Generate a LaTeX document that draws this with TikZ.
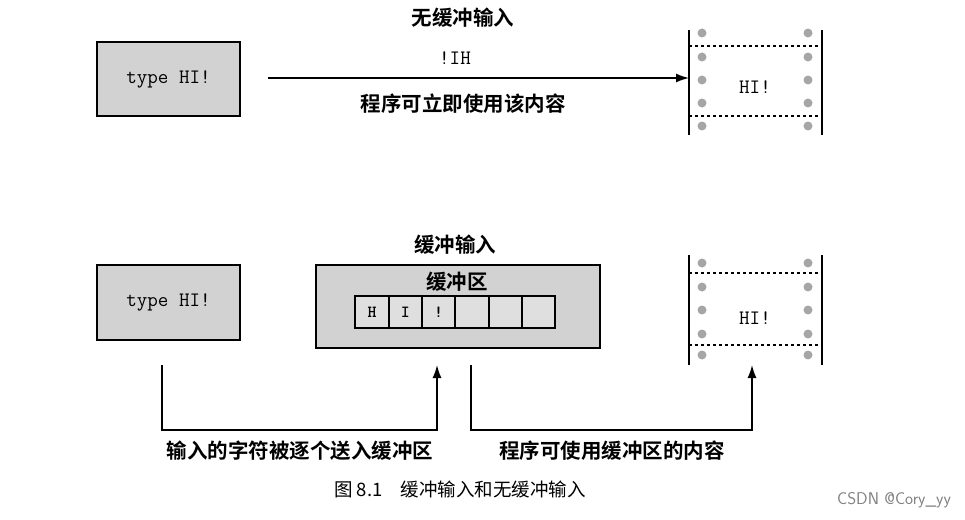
\documentclass[tikz,border=0pt]{standalone}
\usepackage{fontspec}
\newfontfamily\cjk{Noto Sans CJK SC}
\newfontfamily\cjkb{Noto Sans CJK SC Bold}
\usetikzlibrary{arrows.meta}
\begin{document}
\begin{tikzpicture}[x=1pt,y=-1pt,
  gbox/.style={draw,line width=2pt,fill=gray!35},
  lab/.style={font=\cjkb\fontsize{20.5}{23}\selectfont},
  mono/.style={font=\ttfamily\fontsize{20.5}{23}\selectfont},
  dot/.style={circle,fill=gray!70,inner sep=0pt,minimum size=9pt},
  arr/.style={-{Latex[length=13pt,width=9pt]},line width=1.5pt},
  cell/.style={draw,line width=2pt,fill=gray!25,minimum width=33.3pt,minimum height=32pt,inner sep=0pt,font=\ttfamily\bfseries\fontsize{17}{19}\selectfont}]
\useasboundingbox (0,0) rectangle (965,519);
% top
\node[gbox,minimum width=143pt,minimum height=74pt,mono] (t1) at (168.5,79) {type HI!};
\node[lab] (tt) at (463,18) {无缓冲输入};
\node[mono] (ih) at (455,58) {!IH};
\node[lab] (tl) at (463,104) {程序可立即使用该内容};
\coordinate (fa) at (689,78);
\node[mono] (hi1) at (755,87) {HI!};
\coordinate (as) at (268,78);
\draw[arr] (as) -- (fa);
\draw[line width=1.6pt] (689,30) -- (689,135) (822,30) -- (822,135);
\draw[dashed,line width=1.2pt] (689,46) -- (822,46) (689,116) -- (822,116);
\foreach \y in {33,57,80,103,126}{\node[dot] at (702,\y) {}; \node[dot] at (808,\y) {};}
% bottom
\node[lab] (bt) at (455,245) {缓冲输入};
\node[gbox,minimum width=143pt,minimum height=75pt,mono] (t2) at (168.5,302.5) {type HI!};
\node[gbox,minimum width=284pt,minimum height=83pt] (buf) at (458,306.5) {};
\node[lab] (bl) at (457,282) {缓冲区};
\foreach \i/\t in {0/H,1/I,2/!,3/,4/,5/}{\node[cell] (c\i) at (372+\i*33.3,312) {\t};}
\draw[line width=1.6pt] (689,255) -- (689,365) (822,255) -- (822,365);
\draw[dashed,line width=1.2pt] (689,273) -- (822,273) (689,345) -- (822,345);
\foreach \y in {263,287,310,334,355}{\node[dot] at (702,\y) {}; \node[dot] at (808,\y) {};}
\node[mono] (hi2) at (755,318) {HI!};
\coordinate (s1) at (162,365); \coordinate (e1) at (437,365);
\coordinate (s2) at (471,365); \coordinate (e2) at (752,365);
\draw[arr] (s1) |- (300,430) -| (e1);
\draw[arr] (s2) |- (600,430) -| (e2);
\node[lab] (l1) at (300,451) {输入的字符被逐个送入缓冲区};
\node[lab] (l2) at (612,451) {程序可使用缓冲区的内容};
\node[font=\cjk\fontsize{18.5}{20}\selectfont] (cap) at (460,489) {图 8.1\quad 缓冲输入和无缓冲输入};
\node[font=\sffamily\fontsize{17}{19}\selectfont,text=gray] (wm) at (894,500) {CSDN @Cory\_yy};
\end{tikzpicture}
\end{document}
